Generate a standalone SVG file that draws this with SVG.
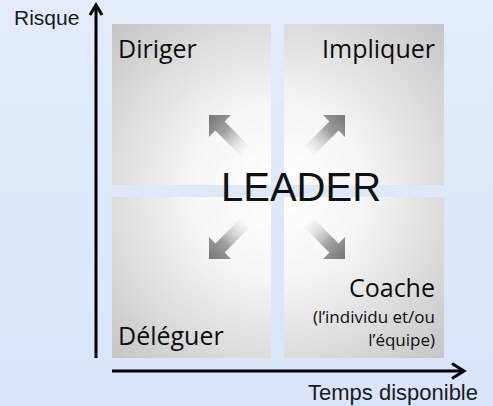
<svg xmlns="http://www.w3.org/2000/svg" width="493" height="406" viewBox="0 0 493 406">
  <defs>
    <linearGradient id="bg" x1="0" y1="0" x2="0" y2="1">
      <stop offset="0" stop-color="#e2ecfb"/>
      <stop offset="1" stop-color="#d8e5f8"/>
    </linearGradient>
    <radialGradient id="quad" gradientUnits="userSpaceOnUse" cx="277" cy="191" r="245">
      <stop offset="0" stop-color="#ffffff"/>
      <stop offset="0.35" stop-color="#f6f6f6"/>
      <stop offset="1" stop-color="#c2c2c2"/>
    </radialGradient>
    <linearGradient id="arrowGrad" x1="0" y1="0" x2="1" y2="1">
      <stop offset="0" stop-color="#767676"/>
      <stop offset="0.4" stop-color="#a0a0a0"/>
      <stop offset="1" stop-color="#f4f4f4" stop-opacity="0"/>
    </linearGradient>
    <path id="diag" d="M0,0 L22,0 L15.6,6.4 L40.6,31.4 L31.4,40.6 L6.4,15.6 L0,22 Z"/>
  </defs>
  <style>
    .quad { fill: url(#quad); }
    .lbl { font-family: "Open Sans", "Noto Sans", sans-serif; font-size: 25px; font-weight: 500; fill: #0d0d0d; }
    .small { font-family: "Open Sans", "Noto Sans", sans-serif; font-size: 17px; font-weight: 500; fill: #0d0d0d; }
    .axis { fill: none; stroke: #000; stroke-width: 3; stroke-linejoin: miter; stroke-linecap: butt; }
    .axlbl { font-family: "Liberation Sans", Arial, sans-serif; fill: #1a1a1a; }
    .arrow { fill: url(#arrowGrad); }
  </style>

  <rect x="0" y="0" width="493" height="406" fill="url(#bg)"/>

  <g id="q-diriger">
    <rect class="quad" x="112" y="24" width="159" height="161"/>
    <text class="lbl" x="118" y="58">Diriger</text>
  </g>
  <g id="q-impliquer">
    <rect class="quad" x="284" y="24" width="160" height="161"/>
    <text class="lbl" x="435" y="58" text-anchor="end">Impliquer</text>
  </g>
  <g id="q-deleguer">
    <rect class="quad" x="112" y="197" width="159" height="161"/>
    <text class="lbl" x="118" y="345">Déléguer</text>
  </g>
  <g id="q-coache">
    <rect class="quad" x="284" y="197" width="160" height="161"/>
    <text class="lbl" x="435" y="297" text-anchor="end">Coache</text>
    <text class="small" x="435" y="323" text-anchor="end">(l’individu et/ou</text>
    <text class="small" x="435" y="346" text-anchor="end">l’équipe)</text>
  </g>

  <g id="arrows">
    <use href="#diag" class="arrow" transform="translate(209,115)"/>
    <use href="#diag" class="arrow" transform="translate(345,115) scale(-1,1)"/>
    <use href="#diag" class="arrow" transform="translate(209,259) scale(1,-1)"/>
    <use href="#diag" class="arrow" transform="translate(345,259) scale(-1,-1)"/>
  </g>

  <g id="leader">
    <text x="301" y="201" text-anchor="middle" font-family="'Liberation Sans', Arial, sans-serif" font-size="40" fill="#111">LEADER</text>
  </g>

  <g id="connectors">
    <line class="axis" x1="96" y1="358" x2="96" y2="6"/>
    <polyline class="axis" points="90,15 96,5 102,15"/>
    <line class="axis" x1="112" y1="371" x2="463" y2="371" stroke-width="3.5"/>
    <polyline class="axis" points="452,363.5 464,371 452,378.5"/>
  </g>

  <g id="axis-labels">
    <text class="axlbl" x="14" y="25" font-size="21">Risque</text>
    <text class="axlbl" x="308" y="400" font-size="22">Temps disponible</text>
  </g>
</svg>
